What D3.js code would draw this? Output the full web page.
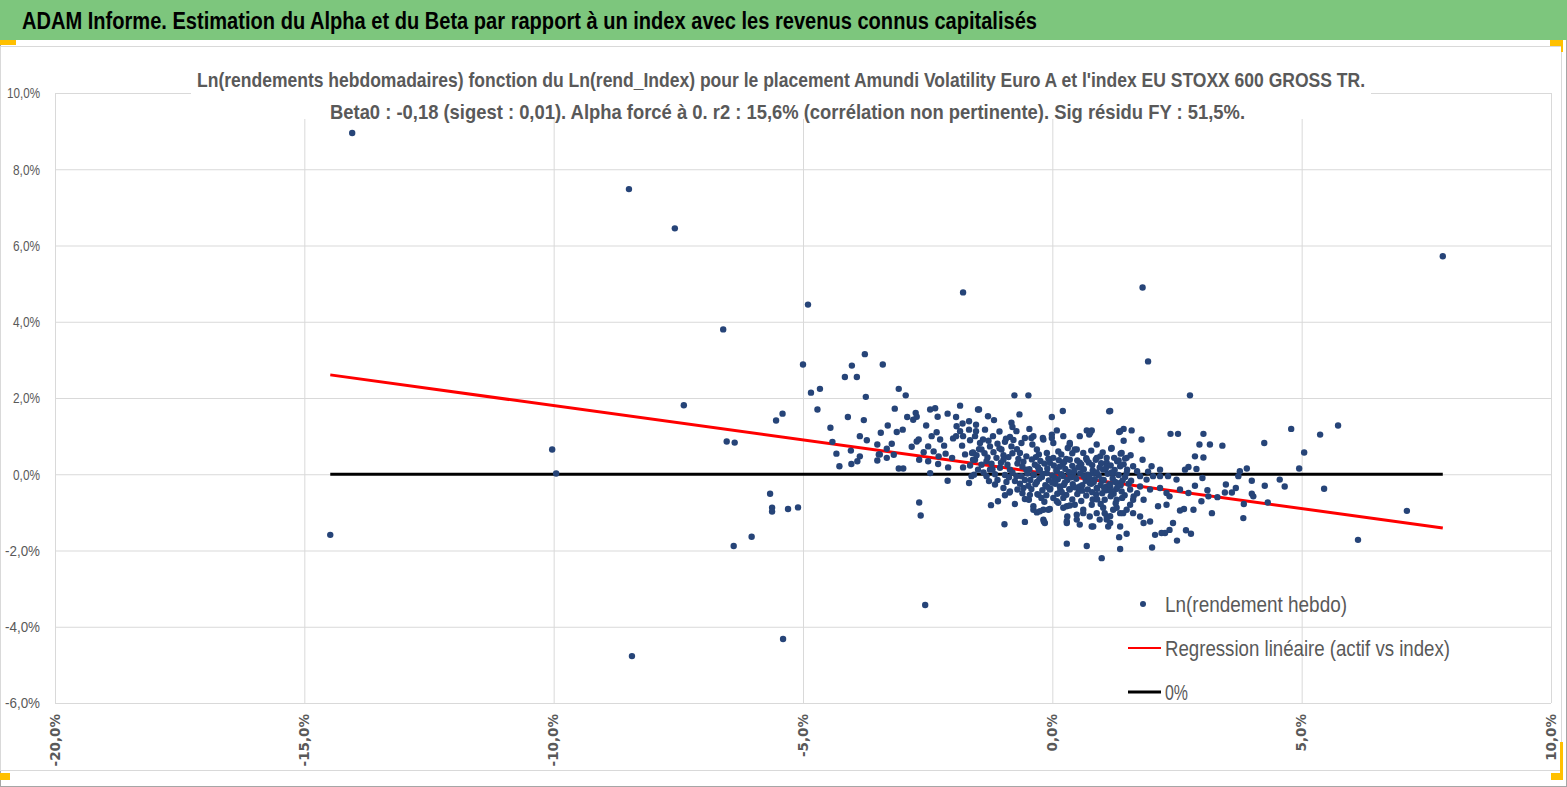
<!DOCTYPE html>
<html lang="fr">
<head>
<meta charset="UTF-8">
<script src="https://d3js.org/d3.v7.min.js"></script>
<style>
  body { margin: 0; background: #fff; }
  .narrow { font-family: "Liberation Sans Narrow", "Liberation Sans", sans-serif; }
</style>
</head>
<body>
<div class="chart"></div>
<script>
// titles
const mainTitle = "ADAM Informe. Estimation du Alpha et du Beta par rapport à un index avec les revenus connus capitalisés"
const subTitle1 = "Ln(rendements hebdomadaires) fonction du Ln(rend_Index) pour le placement Amundi Volatility Euro A  et l'index EU STOXX 600 GROSS TR."
const subTitle2 = "Beta0 : -0,18 (sigest : 0,01).  Alpha forcé à 0. r2 : 15,6% (corrélation non pertinente). Sig résidu FY : 51,5%."

const legendLabels = ["Ln(rendement hebdo)", "Regression linéaire (actif vs index)", "0%"]

const xTicks = [-20, -15, -10, -5, 0, 5, 10]
const yTicks = [-6, -4, -2, 0, 2, 4, 6, 8, 10]

// regression slope (alpha forced to 0)
const beta = -0.18

// weekly points [ln(rend index) %, ln(rend fund) %]
const weeklyPoints = [
  [-14.04,8.95],[-14.48,-1.59],[-8.49,7.48],[-7.57,6.45],[-8.43,-4.77],[-6.60,3.80],[-7.39,1.81],
  [-10.03,0.65],[-9.95,0.02],[-6.53,0.86],[-6.37,0.83],[-6.39,-1.88],[-5.66,-0.51],[-5.62,-0.88],
  [-5.62,-0.98],[-6.03,-1.64],[-5.40,-4.32],[-4.90,4.45],[-5.54,1.41],[-1.79,4.77],[-2.55,-3.43],
  [7.83,5.72],[1.81,4.90],[1.92,2.96],[6.13,-1.72],[7.11,-0.96],[5.73,1.28],[5.37,1.04],[5.45,-0.38],[5.05,0.57],
  [-5.41,1.59],[-5.00,2.88],[-4.84,2.14],[-4.66,2.24],[-4.71,1.70],[-4.45,1.22],[-4.41,0.85],[-4.33,0.54],
  [-4.27,0.21],[-4.16,2.55],[-4.02,2.85],[-3.92,2.55],[-3.76,3.15],[-3.74,2.03],[-4.10,1.50],[-3.78,1.42],
  [-3.86,1.00],[-3.72,0.89],[-4.04,0.62],[-3.86,0.47],[-3.91,0.34],[-4.03,0.27],[-3.40,2.88],[-3.44,1.09],
  [-3.51,0.78],[-3.48,0.52],[-3.51,0.36],[-3.30,1.28],[-3.32,0.67],[-3.16,1.72],[-3.12,1.11],[-3.22,0.80],
  [-3.18,0.51],[-3.08,2.24],[-2.94,2.07],[-3.00,1.17],[-2.91,1.50],[-3.08,0.15],[-2.99,0.15],[-2.79,1.43],
  [-2.74,1.61],[-2.72,1.51],[-2.82,0.72],[-2.72,0.86],[-2.68,0.91],[-2.67,0.38],[-2.67,-0.74],[-2.64,-1.08],
  [-2.53,1.28],[-2.49,0.73],[-2.45,1.70],[-2.35,1.73],[-2.42,1.00],[-2.38,0.60],[-2.49,0.34],[-2.45,0.03],
  [-2.30,1.51],[-2.32,1.10],[-2.25,0.91],[-2.28,0.47],[-2.29,0.27],[-2.17,0.75],[-2.10,1.59],[-2.14,0.54],
  [-2.09,0.18],[-2.10,-0.17],[-1.99,0.94],[-2.01,0.43],[-1.93,1.50],[-1.92,1.26],[-1.85,1.80],[-1.85,1.13],
  [-1.80,1.33],[-1.81,0.75],[-1.79,1.00],[-1.75,0.52],[-1.79,0.18],[-1.67,1.39],[-1.67,1.17],[-1.65,0.89],
  [-1.61,0.56],[-1.65,0.23],[-1.62,-0.05],[-1.67,-0.23],[-1.55,0.38],[-1.53,1.13],[-1.49,1.70],[-1.47,0.66],
  [-1.57,-0.01],[-1.93,1.00],[-2.58,0.58],[-5.30,-0.91],[-5.10,-0.87],[-3.46,0.52],[-3.32,0.43],
  [-0.76,2.07],[-0.48,2.07],[-1.47,1.70],[-1.29,1.52],[-1.17,1.42],[-0.66,1.57],[-0.01,1.50],[0.21,1.66],[1.14,1.65],
  [-1.53,1.30],[-1.35,1.17],[-1.06,1.12],[-0.82,1.35],[-0.80,1.24],[-0.46,1.19],[-0.93,0.93],[-0.72,1.13],
  [-0.55,0.95],[-0.42,0.95],[-0.19,0.95],[-0.01,0.95],[0.09,1.15],[0.69,1.15],[0.79,1.15],[0.74,1.04],
  [0.35,0.78],[0.31,0.69],[0.49,0.65],[0.89,0.43],[1.09,0.30],
  [-1.55,1.00],[-1.39,0.91],[-1.19,1.00],[-1.42,0.65],[-1.25,0.73],[-1.02,0.65],[-0.82,0.73],[-0.65,0.56],
  [-0.31,0.65],[-0.11,0.56],[0.12,0.60],[0.02,0.43],
  [-1.59,0.38],[-1.32,0.34],[-1.12,0.43],[-0.88,0.45],[-0.52,0.47],[0.35,0.38],[0.55,0.30],[0.69,0.38],
  [-1.25,0.12],[-1.05,0.17],[-0.85,0.12],[-0.72,-0.05],[-0.52,0.12],[-0.38,-0.01],[-0.25,0.12],[-0.11,0.03],
  [0.09,0.08],[0.22,-0.05],[0.42,0.03],[0.62,0.12],[0.82,0.03],[1.02,0.12],[0.99,-0.14],
  [-1.15,-0.27],[-0.98,-0.36],[-0.85,-0.45],[-0.58,-0.36],[-0.45,-0.54],[-0.28,-0.54],[-0.05,-0.40],[0.15,-0.32],
  [0.35,-0.40],[0.55,-0.32],[0.75,-0.23],[0.89,-0.36],[1.09,-0.32],
  [-1.23,-0.81],[-1.09,-0.71],[-0.86,-0.48],[-0.55,-0.65],[-0.38,-0.93],[-0.31,-1.00],[-0.18,-0.93],[-0.05,-0.91],
  [0.12,-0.75],[0.29,-0.84],[0.30,-1.11],[0.29,-1.28],[0.49,-1.19],[0.62,-1.02],[0.75,-1.11],[0.79,-1.37],
  [0.95,-1.19],[1.05,-1.02],[1.12,-1.37],
  [-0.96,-1.31],[-0.55,-1.25],[-0.17,-1.24],[-0.15,-1.28],[0.29,-1.82],[0.69,-1.88],[0.99,-2.20],
  [-1.32,-0.05],[-1.49,0.12],[-1.59,0.57],
  [2.76,2.07],[1.16,1.66],[1.34,1.11],[1.43,1.19],[1.59,1.15],[1.43,0.88],[1.79,0.91],[2.37,1.06],[2.52,1.06],
  [3.03,1.06],[2.95,0.78],[3.16,0.78],[3.41,0.75],[4.25,0.82],[4.79,1.19],
  [1.18,0.67],[1.37,0.54],[1.46,0.41],[1.57,0.50],[1.81,0.38],[1.99,0.21],[2.16,0.12],[2.86,0.47],[3.03,0.44],
  [2.73,0.19],[2.89,0.14],[2.66,0.12],[3.76,0.08],[3.90,0.15],[3.73,-0.05],[4.95,0.15],
  [1.09,0.21],[1.22,0.03],[1.36,0.21],[1.49,0.03],[1.62,0.21],[1.76,-0.05],[1.89,-0.14],[2.02,-0.05],
  [2.16,-0.05],[2.32,-0.05],[2.49,-0.14],
  [1.02,-0.16],[1.16,-0.32],[1.36,-0.23],[1.56,-0.40],[1.76,-0.32],[1.96,-0.40],[2.16,-0.36],[2.29,-0.49],
  [2.56,-0.40],[2.73,-0.49],[2.86,-0.30],[3.01,-0.10],[3.11,-0.42],[3.13,-0.58],[3.31,-0.60],[3.46,-0.48],
  [3.48,-0.27],[3.60,-0.48],[3.68,-0.36],[4.00,-0.17],[4.00,-0.51],[4.03,-0.58],[3.84,-0.78],[3.83,-1.15],
  [4.26,-0.30],[4.32,-0.74],[4.56,-0.14],[4.66,-0.32],
  [3.20,-1.02],[2.99,-0.71],[2.83,-0.93],[2.64,-0.91],[2.56,-0.95],[2.42,-1.28],[2.68,-1.47],[2.78,-1.56],
  [2.50,-1.74],[2.35,-1.46],[2.26,-1.54],[2.19,-1.54],[2.06,-1.59],[2.00,-1.92],[1.36,-1.96],[1.34,-1.65],
  [1.49,-1.56],[1.83,-1.28],[1.96,-1.24],[1.76,-1.11],[1.62,-1.02],[1.49,-0.93],[1.36,-1.02],
  [1.22,-0.93],[1.16,-1.28],[1.09,-1.11],[2.12,-0.84],[2.29,-0.80],[2.35,-0.58],[1.83,-0.67],[1.62,-0.67],
  [1.29,-0.67],[1.05,-0.67],
  [-0.38,1.00],[-0.18,0.91],[-0.01,1.04],[0.02,0.82],[0.22,1.00],[0.35,0.82],[0.55,1.00],[0.45,0.65],
  [0.62,0.56],[0.76,1.09],[0.89,0.78],[1.19,0.69],[1.36,1.13],[1.39,0.56],[1.49,0.43],[0.96,0.47],[1.09,0.43],
  [-0.41,0.39],[-0.24,0.35],[-0.08,0.41],[0.13,0.37],[0.28,0.40],[0.50,0.36],[0.68,0.42],[0.87,0.38],[1.30,0.34],
  [-0.35,0.25],[-0.16,0.28],[0.03,0.23],[0.21,0.27],[0.40,0.22],[0.58,0.26],[0.80,0.24],[0.98,0.29],[1.17,0.23],[1.43,0.26],
  [-0.46,0.13],[-0.27,0.10],[-0.10,0.15],[0.08,0.11],[0.26,0.14],[0.44,0.09],[0.63,0.13],[0.81,0.10],[1.07,0.14],[1.25,0.11],[1.50,0.12],
  [-0.37,-0.02],[-0.19,0.01],[0.00,-0.03],[0.18,0.00],[0.36,-0.02],[0.56,0.02],[0.71,-0.01],[0.93,-0.03],[1.11,0.01],[1.33,-0.02],
  [-0.44,-0.15],[-0.26,-0.12],[-0.07,-0.16],[0.11,-0.13],[0.30,-0.15],[0.48,-0.12],[0.67,-0.17],[0.85,-0.13],[1.03,-0.15],[1.21,-0.11],[1.41,-0.16],
  [-0.34,-0.26],[-0.14,-0.29],[0.06,-0.25],[0.23,-0.28],[0.41,-0.26],[0.60,-0.29],[0.78,-0.25],[0.97,-0.28],[1.15,-0.26],[1.37,-0.29],[1.53,-0.25],
  [-0.42,-0.39],[-0.20,-0.42],[-0.04,-0.38],[0.16,-0.41],[0.34,-0.39],[0.53,-0.43],[0.71,-0.40],[0.90,-0.38],[1.08,-0.42],[1.28,-0.39],
  [-0.30,-0.52],[-0.12,-0.55],[0.10,-0.51],[0.28,-0.54],[0.50,-0.52],[0.68,-0.56],[0.88,-0.53],[1.23,-0.51],[1.45,-0.55],
  [-0.38,-0.84],[-0.25,-0.97],[-0.08,-0.93],[0.09,-0.71],[0.22,-0.88],[0.35,-0.82],[0.49,-1.06],[0.62,-0.93],
  [0.79,-0.80],[0.89,-1.02],[1.02,-0.88],[1.16,-1.10],[1.29,-0.88],[1.42,-1.02],[-0.18,-1.19],[0.29,-1.23],
  [0.55,-1.32],[0.82,-1.37],[1.09,-1.19],[1.36,-1.37],
  [-1.45,0.82],[-1.28,0.88],[-1.10,0.80],[-0.95,0.85],[-0.78,0.90],[-0.62,0.82],
  [-1.52,0.50],[-1.36,0.55],[-1.18,0.58],[-0.98,0.50],[-0.80,0.55],[-0.68,0.40],
  [-1.42,0.25],[-1.22,0.28],[-1.03,0.30],[-0.90,0.25],[-0.70,0.28],[-0.60,0.20],
  [-1.38,0.05],[-1.15,0.00],[-0.95,-0.02],[-0.80,0.05],[-0.62,-0.05],[-0.50,0.02],
  [-1.10,-0.15],[-0.92,-0.20],[-0.75,-0.18],[-0.65,-0.25],[-0.55,-0.15],[-0.70,-0.40],[-0.48,-0.30],
  [-1.06,0.68],[-0.71,0.66],[-0.40,0.78],[-0.27,0.52],[0.18,0.52],[0.40,0.55],[0.78,0.62],[1.01,0.57],
  [-1.30,0.44],[-0.98,0.38],[-0.58,0.33],[-0.33,0.45],[0.24,0.32],[0.95,0.18],[1.24,0.43],[1.33,0.36],
  [-1.27,-0.18],[-0.87,-0.08],[-0.31,-0.20],[0.00,-0.22],[0.38,-0.08],[0.74,-0.08],[1.26,-0.20],[1.46,-0.07],
  [-0.95,-0.55],[-0.60,-0.50],[0.02,-0.62],[0.40,-0.66],[0.81,-0.66],[1.00,-0.50],[1.17,-0.58],[1.39,-0.45],
  [-0.75,-0.78],[-0.16,-0.72],[0.45,-0.80],[0.97,-0.78],[1.56,-0.80],[1.70,-0.50],[1.70,0.08],[1.92,0.07],
  [-0.29,0.19],[-0.05,0.30],[0.15,0.20],[0.33,0.06],[0.52,0.18],[0.73,0.31],[0.89,0.05],[1.19,0.05],
  [-0.21,-0.07],[0.04,-0.09],[0.25,-0.22],[0.45,-0.34],[0.63,-0.05],[0.83,-0.20],[1.04,-0.36],[1.31,-0.32],
  [-0.10,-0.33],[0.19,-0.47],[0.60,-0.43],[0.80,-0.47],[1.17,-0.44],[1.40,-0.62],[-0.47,-0.67],[-0.22,-0.62],
  [0.22,-0.62],[0.58,-0.70],[0.90,-0.66],[1.27,-0.76],[1.58,-0.17],[1.63,-0.58],[-0.85,0.98],[-1.20,0.13]
]

const W = 1567, H = 787
const plot = { left: 55, right: 1551, top: 93, bottom: 703 }
const grey = "#595959"
const dotColor = "#264478"

const svg = d3.select(".chart").append("svg")
  .attr("width", W).attr("height", H)
  .style("display", "block")

// frame, header band and corner marks
svg.append("rect").attr("x", 0.5).attr("y", 0.5).attr("width", W - 1).attr("height", H - 1)
  .attr("fill", "#fff").attr("stroke", "#a6a6a6")
svg.append("rect").attr("x", 0).attr("y", 0).attr("width", W).attr("height", 40).attr("fill", "#7dc67d")
svg.append("rect").attr("x", 0.5).attr("y", 46.5).attr("width", 1561).attr("height", 724)
  .attr("fill", "none").attr("stroke", "#d9d9d9")
const orange = "#ffc000"
svg.append("rect").attr("x", 0).attr("y", 40).attr("width", 16).attr("height", 5).attr("fill", orange)
svg.append("rect").attr("x", 1550).attr("y", 40).attr("width", 13).attr("height", 6).attr("fill", orange)
svg.append("rect").attr("x", 1561).attr("y", 46).attr("width", 2).attr("height", 6).attr("fill", orange)
svg.append("rect").attr("x", 0).attr("y", 773).attr("width", 10).attr("height", 7).attr("fill", orange)
svg.append("rect").attr("x", 1560).attr("y", 742).attr("width", 3).attr("height", 38).attr("fill", orange)
svg.append("rect").attr("x", 1551).attr("y", 773).attr("width", 12).attr("height", 7).attr("fill", orange)

svg.append("text").attr("class", "narrow")
  .attr("x", 22).attr("y", 29)
  .attr("font-size", 23).attr("font-weight", "bold").attr("fill", "#000")
  .attr("textLength", 1015).attr("lengthAdjust", "spacingAndGlyphs")
  .text(mainTitle)

const x = d3.scaleLinear().domain([-20, 10]).range([plot.left, plot.right])
const y = d3.scaleLinear().domain([-6, 10]).range([plot.bottom, plot.top])

const fmt = d => d.toFixed(1).replace(".", ",") + "%"

// gridlines
svg.append("g")
  .attr("transform", "translate(0," + plot.bottom + ")")
  .call(d3.axisBottom(x).tickValues(xTicks).tickSize(-(plot.bottom - plot.top)).tickFormat(""))
  .call(g => g.select(".domain").remove())
  .call(g => g.selectAll("line").attr("stroke", "#d9d9d9"))
svg.append("g")
  .attr("transform", "translate(" + plot.left + ",0)")
  .call(d3.axisLeft(y).tickValues(yTicks).tickSize(-(plot.right - plot.left)).tickFormat(""))
  .call(g => g.select(".domain").remove())
  .call(g => g.selectAll("line").attr("stroke", "#d9d9d9"))

// subtitle box hides the gridlines under it
svg.append("rect").attr("x", 191).attr("y", 62).attr("width", 1180).attr("height", 57).attr("fill", "#fff")
svg.append("text").attr("class", "narrow")
  .attr("x", 197).attr("y", 87)
  .attr("font-size", 20.5).attr("font-weight", "bold").attr("fill", grey)
  .attr("textLength", 1168).attr("lengthAdjust", "spacingAndGlyphs")
  .text(subTitle1)
svg.append("text").attr("class", "narrow")
  .attr("x", 330).attr("y", 119)
  .attr("font-size", 20.5).attr("font-weight", "bold").attr("fill", grey)
  .attr("textLength", 915).attr("lengthAdjust", "spacingAndGlyphs")
  .text(subTitle2)

// y tick labels
svg.append("g").selectAll("text")
  .data(yTicks).enter().append("text")
  .attr("class", "narrow")
  .attr("x", 40).attr("y", d => y(d)).attr("dy", "0.35em")
  .attr("text-anchor", "end").attr("font-size", 15).attr("fill", grey)
  .attr("textLength", d => d < 0 ? 35 : (d >= 10 ? 33 : 27)).attr("lengthAdjust", "spacingAndGlyphs")
  .text(fmt)

// x tick labels, rotated
svg.append("g").selectAll("text")
  .data(xTicks).enter().append("text")
  .attr("transform", d => "translate(" + x(d) + ",714) rotate(-90)")
  .attr("dy", "0.35em").attr("text-anchor", "end")
  .attr("font-family", "DejaVu Sans, sans-serif").attr("font-weight", "bold")
  .attr("font-size", 13.5).attr("fill", grey)
  .text(fmt)

// zero line and regression line across the data range
const xr = d3.extent(weeklyPoints, d => d[0])
const line = d3.line().x(d => x(d[0])).y(d => y(d[1]))
svg.append("path").datum(xr.map(v => [v, 0]))
  .attr("d", line).attr("stroke", "#000").attr("stroke-width", 3).attr("fill", "none")
svg.append("path").datum(xr.map(v => [v, beta * v]))
  .attr("d", line).attr("stroke", "#ff0000").attr("stroke-width", 3).attr("fill", "none")

svg.append("g").selectAll("circle")
  .data(weeklyPoints).enter().append("circle")
  .attr("cx", d => x(d[0])).attr("cy", d => y(d[1]))
  .attr("r", 3.2).attr("fill", dotColor)

// legend
const lg = svg.append("g")
lg.append("circle").attr("cx", 1143).attr("cy", 604).attr("r", 3).attr("fill", dotColor)
lg.append("line").attr("x1", 1128).attr("x2", 1161).attr("y1", 648).attr("y2", 648)
  .attr("stroke", "#ff0000").attr("stroke-width", 2)
lg.append("line").attr("x1", 1128).attr("x2", 1161).attr("y1", 692).attr("y2", 692)
  .attr("stroke", "#000").attr("stroke-width", 3)
const legendW = [182, 285, 23]
lg.selectAll("text").data(legendLabels).enter().append("text")
  .attr("class", "narrow")
  .attr("x", 1165).attr("y", (d, i) => 604 + i * 44).attr("dy", "0.35em")
  .attr("font-size", 22).attr("fill", grey)
  .attr("textLength", (d, i) => legendW[i]).attr("lengthAdjust", "spacingAndGlyphs")
  .text(d => d)
</script>
</body>
</html>
